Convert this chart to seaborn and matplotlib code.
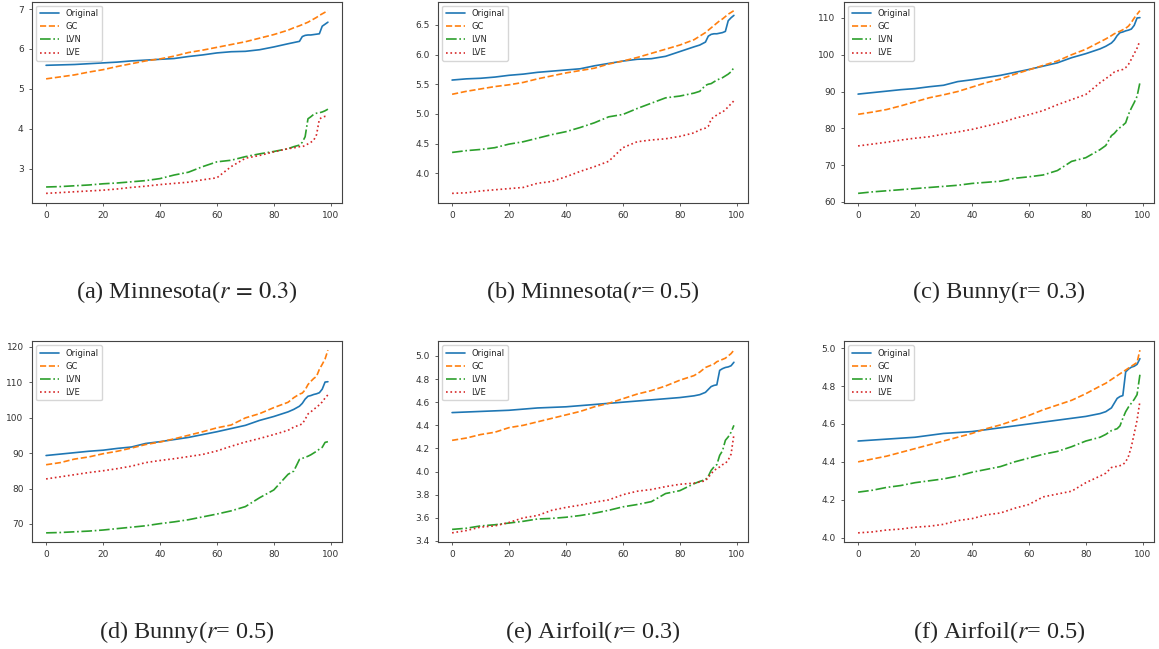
import matplotlib
matplotlib.use("Agg")
import matplotlib.pyplot as plt
import seaborn as sns

# sample positions (0..99), denser near the end where the curves jump
X = [0, 5, 10, 15, 20, 25, 30, 35, 40, 45, 50, 55, 60, 65, 70, 75, 80, 85,
     87, 89, 90, 91, 92, 93, 94, 95, 96, 97, 98, 99]

METHODS = ["Original", "GC", "LVN", "LVE"]
COLORS = ["#1f77b4", "#ff7f0e", "#2ca02c", "#d62728"]
STYLES = ["-", "--", "-.", ":"]

# (a) Minnesota r=0.3
MN03_ORIG = [5.59, 5.60, 5.61, 5.63, 5.65, 5.67, 5.70, 5.72, 5.74, 5.76, 5.81, 5.85, 5.90, 5.93, 5.94,
             5.98, 6.05, 6.13, 6.16, 6.19, 6.31, 6.34, 6.35, 6.35, 6.36, 6.37, 6.38, 6.57, 6.62, 6.67]
MN03_GC = [5.25, 5.30, 5.35, 5.42, 5.48, 5.56, 5.63, 5.70, 5.75, 5.82, 5.91, 5.97, 6.04, 6.11, 6.18,
           6.27, 6.36, 6.47, 6.53, 6.58, 6.61, 6.64, 6.67, 6.71, 6.75, 6.79, 6.84, 6.88, 6.92, 6.96]
MN03_LVN = [2.54, 2.55, 2.57, 2.59, 2.62, 2.64, 2.67, 2.70, 2.75, 2.84, 2.91, 3.05, 3.17, 3.21, 3.30,
            3.37, 3.43, 3.50, 3.55, 3.59, 3.66, 3.80, 4.25, 4.30, 4.36, 4.39, 4.40, 4.42, 4.45, 4.49]
MN03_LVE = [2.38, 2.40, 2.42, 2.44, 2.46, 2.49, 2.53, 2.56, 2.60, 2.63, 2.66, 2.72, 2.77, 3.05, 3.26,
            3.33, 3.42, 3.50, 3.52, 3.55, 3.55, 3.58, 3.62, 3.66, 3.71, 3.85, 4.24, 4.29, 4.31, 4.32]

# (b) Minnesota r=0.5
MN05_ORIG = [5.57, 5.59, 5.60, 5.62, 5.65, 5.67, 5.70, 5.72, 5.74, 5.76, 5.81, 5.85, 5.89, 5.92, 5.93,
             5.97, 6.05, 6.13, 6.16, 6.21, 6.31, 6.34, 6.35, 6.35, 6.36, 6.37, 6.39, 6.57, 6.62, 6.66]
MN05_GC = [5.33, 5.38, 5.42, 5.46, 5.49, 5.53, 5.59, 5.64, 5.69, 5.73, 5.77, 5.84, 5.89, 5.95, 6.02,
           6.09, 6.16, 6.25, 6.31, 6.37, 6.41, 6.45, 6.49, 6.53, 6.57, 6.60, 6.64, 6.68, 6.71, 6.74]
MN05_LVN = [4.35, 4.38, 4.40, 4.43, 4.49, 4.53, 4.59, 4.65, 4.70, 4.77, 4.85, 4.95, 4.99, 5.09, 5.18,
            5.27, 5.30, 5.35, 5.38, 5.48, 5.50, 5.51, 5.54, 5.57, 5.59, 5.61, 5.64, 5.67, 5.71, 5.78]
MN05_LVE = [3.66, 3.67, 3.70, 3.72, 3.74, 3.76, 3.83, 3.86, 3.94, 4.03, 4.11, 4.20, 4.43, 4.53, 4.56,
            4.58, 4.62, 4.68, 4.73, 4.76, 4.79, 4.91, 4.95, 4.98, 5.01, 5.03, 5.07, 5.12, 5.17, 5.22]

# (c) Bunny r=0.3
BN03_ORIG = [89.3, 89.7, 90.1, 90.5, 90.8, 91.3, 91.7, 92.7, 93.2, 93.8, 94.4, 95.2, 96.0, 96.9, 97.8,
             99.2, 100.3, 101.6, 102.3, 103.2, 104.0, 105.2, 106.0, 106.2, 106.5, 106.7, 107.0, 108.0, 110.0, 110.1]
BN03_GC = [83.8, 84.4, 85.1, 86.1, 87.2, 88.3, 89.1, 90.0, 91.2, 92.4, 93.4, 94.7, 95.9, 97.1, 98.3,
           100.0, 101.5, 103.5, 104.3, 105.2, 105.7, 106.1, 106.4, 106.8, 107.2, 107.8, 108.8, 110.0, 111.0, 112.0]
BN03_LVN = [62.3, 62.7, 63.0, 63.3, 63.6, 63.9, 64.2, 64.5, 65.0, 65.3, 65.6, 66.4, 66.8, 67.3, 68.5,
            71.0, 72.0, 74.2, 75.3, 78.0, 78.6, 79.5, 80.2, 80.8, 81.5, 83.8, 85.5, 87.0, 88.7, 92.4]
BN03_LVE = [75.2, 75.7, 76.2, 76.8, 77.3, 77.7, 78.4, 79.0, 79.7, 80.6, 81.5, 82.7, 83.7, 84.8, 86.4,
            87.8, 89.2, 92.4, 93.5, 94.6, 95.3, 95.6, 95.8, 96.0, 96.5, 97.4, 98.8, 100.3, 101.8, 103.8]

# (d) Bunny r=0.5
BN05_ORIG = [89.3, 89.7, 90.1, 90.5, 90.8, 91.3, 91.7, 92.7, 93.2, 93.8, 94.4, 95.2, 96.0, 96.9, 97.8,
             99.2, 100.3, 101.6, 102.3, 103.2, 104.0, 105.2, 106.0, 106.2, 106.5, 106.7, 107.0, 108.0, 110.0, 110.1]
BN05_GC = [86.7, 87.3, 88.3, 88.9, 89.8, 90.5, 91.4, 92.4, 93.1, 94.0, 95.0, 96.0, 97.1, 97.9, 99.9,
           101.1, 102.8, 104.3, 105.6, 106.6, 106.9, 107.8, 109.3, 110.2, 111.0, 111.6, 113.6, 115.0, 116.5, 119.0]
BN05_LVN = [67.5, 67.6, 67.8, 68.0, 68.3, 68.7, 69.1, 69.5, 70.1, 70.6, 71.2, 72.0, 72.8, 73.7, 74.9,
            77.4, 79.6, 84.0, 84.9, 88.2, 88.5, 88.8, 89.1, 89.5, 90.0, 90.5, 91.1, 91.6, 93.0, 93.2]
BN05_LVE = [82.7, 83.3, 83.9, 84.5, 85.0, 85.6, 86.3, 87.3, 87.9, 88.4, 89.0, 89.6, 90.6, 91.9, 93.1,
            94.1, 95.2, 96.4, 97.3, 97.9, 98.2, 99.5, 101.0, 101.6, 102.3, 102.9, 103.6, 104.4, 105.5, 106.4]

# (e) Airfoil r=0.3
AF03_ORIG = [4.51, 4.515, 4.52, 4.525, 4.53, 4.54, 4.55, 4.555, 4.56, 4.57, 4.58, 4.59, 4.60, 4.61, 4.62,
             4.63, 4.64, 4.655, 4.665, 4.685, 4.71, 4.735, 4.745, 4.75, 4.875, 4.89, 4.90, 4.905, 4.915, 4.945]
AF03_GC = [4.27, 4.29, 4.32, 4.34, 4.38, 4.40, 4.43, 4.46, 4.49, 4.52, 4.56, 4.59, 4.63, 4.67, 4.70,
           4.74, 4.79, 4.83, 4.86, 4.90, 4.91, 4.92, 4.93, 4.95, 4.96, 4.97, 4.98, 5.00, 5.02, 5.05]
AF03_LVN = [3.50, 3.51, 3.53, 3.54, 3.555, 3.57, 3.59, 3.595, 3.605, 3.62, 3.64, 3.665, 3.695, 3.715, 3.74,
            3.81, 3.835, 3.895, 3.915, 3.93, 3.96, 4.01, 4.04, 4.06, 4.14, 4.18, 4.27, 4.30, 4.34, 4.40]
AF03_LVE = [3.47, 3.49, 3.52, 3.53, 3.56, 3.60, 3.62, 3.665, 3.69, 3.71, 3.735, 3.755, 3.80, 3.83, 3.845,
            3.87, 3.89, 3.90, 3.91, 3.92, 3.95, 3.98, 4.01, 4.025, 4.04, 4.06, 4.07, 4.10, 4.15, 4.32]

# (f) Airfoil r=0.5
AF05_ORIG = [4.51, 4.515, 4.52, 4.525, 4.53, 4.54, 4.55, 4.555, 4.56, 4.57, 4.58, 4.59, 4.60, 4.61, 4.62,
             4.63, 4.64, 4.655, 4.665, 4.685, 4.71, 4.735, 4.745, 4.75, 4.875, 4.89, 4.90, 4.905, 4.915, 4.945]
AF05_GC = [4.40, 4.415, 4.43, 4.45, 4.47, 4.49, 4.51, 4.53, 4.55, 4.575, 4.595, 4.62, 4.645, 4.675, 4.70,
           4.725, 4.76, 4.80, 4.815, 4.835, 4.845, 4.855, 4.865, 4.875, 4.885, 4.895, 4.905, 4.915, 4.925, 4.99]
AF05_LVN = [4.24, 4.25, 4.265, 4.275, 4.29, 4.30, 4.31, 4.325, 4.345, 4.36, 4.375, 4.40, 4.42, 4.44, 4.455,
            4.48, 4.51, 4.53, 4.545, 4.565, 4.57, 4.575, 4.59, 4.63, 4.665, 4.69, 4.71, 4.73, 4.755, 4.86]
AF05_LVE = [4.025, 4.03, 4.04, 4.045, 4.055, 4.06, 4.07, 4.09, 4.10, 4.12, 4.13, 4.155, 4.175, 4.215, 4.23,
            4.245, 4.29, 4.325, 4.34, 4.37, 4.375, 4.375, 4.38, 4.385, 4.40, 4.43, 4.48, 4.55, 4.62, 4.72]

CAPTIONS = [
    "(a) Minnesota($r\\,=\\,0.3$)",
    "(b) Minnesota($r$= 0.5)",
    "(c) Bunny(r= 0.3)",
    "(d) Bunny($r$= 0.5)",
    "(e) Airfoil($r$= 0.3)",
    "(f) Airfoil($r$= 0.5)",
]

PANELS = [
    [MN03_ORIG, MN03_GC, MN03_LVN, MN03_LVE],
    [MN05_ORIG, MN05_GC, MN05_LVN, MN05_LVE],
    [BN03_ORIG, BN03_GC, BN03_LVN, BN03_LVE],
    [BN05_ORIG, BN05_GC, BN05_LVN, BN05_LVE],
    [AF03_ORIG, AF03_GC, AF03_LVN, AF03_LVE],
    [AF05_ORIG, AF05_GC, AF05_LVN, AF05_LVE],
]

sns.set_theme(style="ticks", rc={
    "axes.edgecolor": "#444444",
    "axes.linewidth": 0.8,
    "xtick.color": "#444444",
    "ytick.color": "#444444",
    "xtick.labelcolor": "#333333",
    "ytick.labelcolor": "#333333",
    "xtick.major.size": 2.5,
    "ytick.major.size": 2.5,
    "xtick.major.width": 0.6,
    "ytick.major.width": 0.6,
    "xtick.labelsize": 6.5,
    "ytick.labelsize": 6.5,
    "mathtext.fontset": "stix",
})
plt.rcParams["font.family"] = ["DejaVu Sans"]

W, H = 1159, 649
fig = plt.figure(figsize=(W / 100, H / 100), dpi=100)

lefts = [32, 438, 844]
tops = [1.5, 341]
aw, ah = 310, 201

for i, series in enumerate(PANELS):
    row, col = divmod(i, 3)
    l, t = lefts[col], tops[row]
    ax = fig.add_axes([l / W, 1 - (t + ah) / H, aw / W, ah / H])
    for name, vals, c, ls in zip(METHODS, series, COLORS, STYLES):
        sns.lineplot(x=X, y=vals, ax=ax, color=c, linestyle=ls, linewidth=1.2, label=name)
    ax.legend(loc="upper left", fontsize=6, frameon=True, framealpha=0.8,
              edgecolor="#cccccc", handlelength=2.3)
    ax.set_xticks([0, 20, 40, 60, 80, 100])
    ax.set_xlabel("")
    ax.set_ylabel("")
    cap_y = 292 if row == 0 else 632
    fig.text((l + aw / 2) / W, 1 - cap_y / H, CAPTIONS[i], ha="center", va="center",
             fontsize=17.5, family=["Liberation Serif"])

fig.savefig("out.png", dpi=100)
